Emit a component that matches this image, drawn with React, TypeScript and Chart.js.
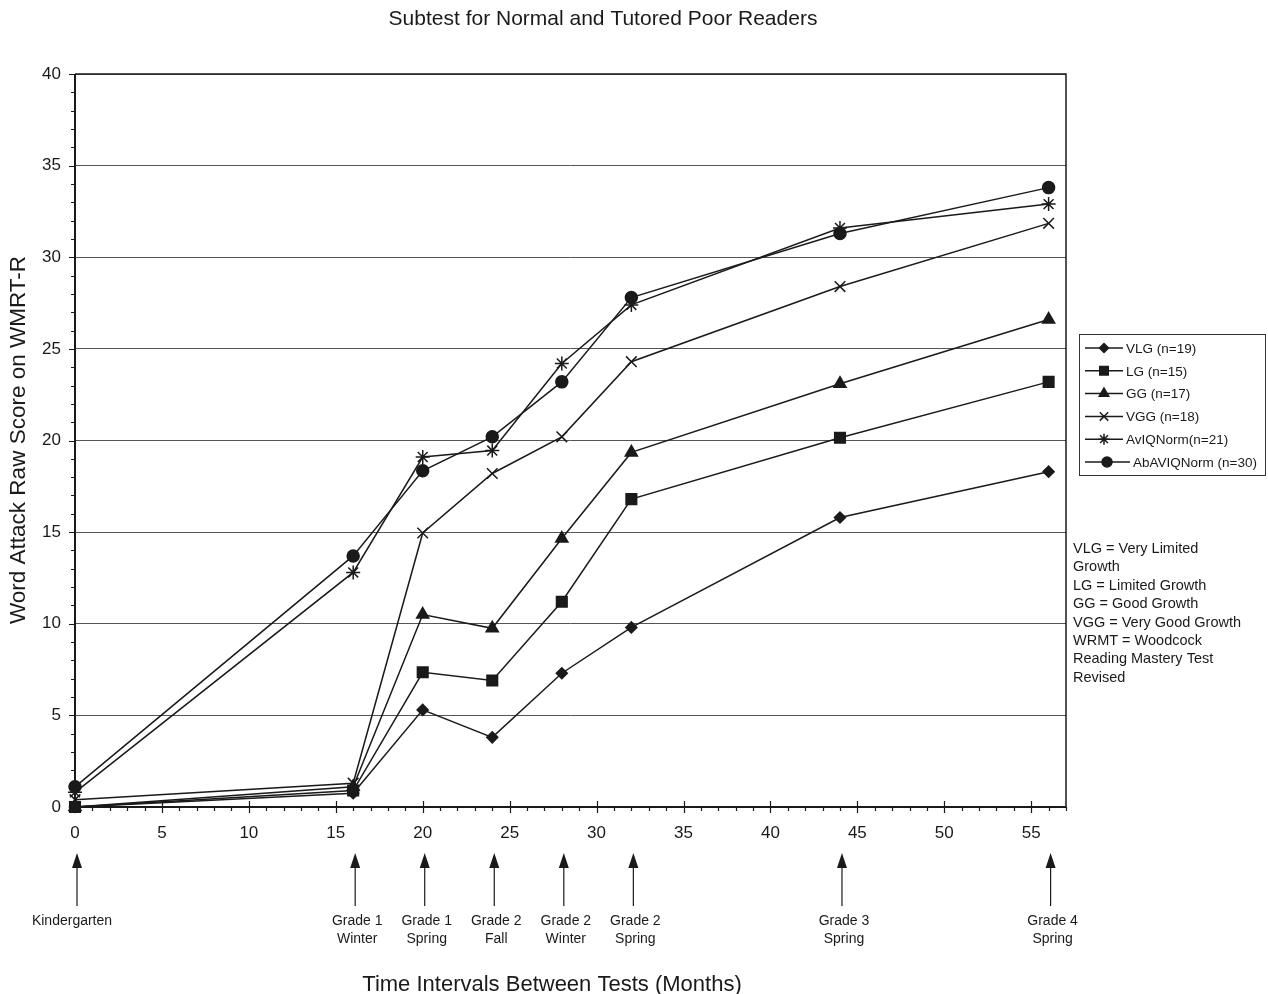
import React, { useEffect, useRef } from "react";
import { Chart, registerables } from "chart.js";
import { drawPoint } from "chart.js/helpers";

Chart.register(...registerables);

const months = [0, 16, 20, 24, 28, 32, 44, 56];
const vlg = [0, 0.75, 5.3, 3.8, 7.3, 9.8, 15.8, 18.3];
const lg = [0, 0.9, 7.35, 6.9, 11.2, 16.8, 20.15, 23.2];
const gg = [0, 1.1, 10.5, 9.75, 14.65, 19.35, 23.1, 26.6];
const vgg = [0.4, 1.3, 14.95, 18.2, 20.2, 24.3, 28.4, 31.85];
const aviq = [0.8, 12.8, 19.1, 19.45, 24.2, 27.4, 31.6, 32.9];
const abaviq = [1.1, 13.7, 18.35, 20.2, 23.2, 27.8, 31.3, 33.8];

const seriesNames = [
  "VLG (n=19)",
  "LG (n=15)",
  "GG (n=17)",
  "VGG (n=18)",
  "AvIQNorm(n=21)",
  "AbAVIQNorm (n=30)",
];
const seriesValues = [vlg, lg, gg, vgg, aviq, abaviq];
const pointStyles = ["rectRot", "rect", "triangle", "crossRot", "star", "circle"];
const pointRadii = [5.5, 7.5, 7, 7.5, 7, 6];
const legendRadii = [4.5, 6, 5.5, 6, 5.5, 5];

const testLabels = [
  ["Kindergarten"],
  ["Grade 1", "Winter"],
  ["Grade 1", "Spring"],
  ["Grade 2", "Fall"],
  ["Grade 2", "Winter"],
  ["Grade 2", "Spring"],
  ["Grade 3", "Spring"],
  ["Grade 4", "Spring"],
];

const notes = [
  "VLG = Very Limited",
  "Growth",
  "LG = Limited Growth",
  "GG = Good Growth",
  "VGG = Very Good Growth",
  "WRMT = Woodcock",
  "Reading Mastery Test",
  "Revised",
];

const titleText = "Subtest for Normal and Tutored Poor Readers";
const xTitle = "Time Intervals Between Tests (Months)";
const yTitle = "Word Attack Raw Score on WMRT-R";

const FONT = '"Liberation Sans", Arial, Helvetica, sans-serif';
const INK = "#1a1a1a";

const decorPlugin = {
  id: "decor",
  beforeDatasetsDraw(chart: any) {
    const ctx = chart.ctx;
    const { left, right, top, bottom } = chart.chartArea;
    const xs = chart.scales.x;
    const ys = chart.scales.y;
    ctx.save();
    ctx.strokeStyle = INK;
    ctx.lineWidth = 1.5;
    ctx.beginPath();
    ctx.moveTo(left, top);
    ctx.lineTo(right, top);
    ctx.lineTo(right, bottom);
    ctx.stroke();
    ctx.lineWidth = 2;
    ctx.beginPath();
    ctx.moveTo(left, top);
    ctx.lineTo(left, bottom);
    ctx.lineTo(right, bottom);
    ctx.stroke();
    ctx.lineWidth = 1.2;
    ctx.beginPath();
    for (let v = 0; v <= xs.max; v++) {
      const px = Math.round(xs.getPixelForValue(v)) + 0.5;
      if (v % 5 === 0) {
        ctx.moveTo(px, bottom - 6);
        ctx.lineTo(px, bottom + 6);
      } else {
        ctx.moveTo(px, bottom);
        ctx.lineTo(px, bottom + 4);
      }
    }
    ctx.stroke();
    ctx.beginPath();
    for (let v = 0; v <= ys.max; v++) {
      const py = Math.round(ys.getPixelForValue(v)) + 0.5;
      if (v % 5 === 0) {
        ctx.moveTo(left - 6, py);
        ctx.lineTo(left, py);
      } else {
        ctx.moveTo(left - 4, py);
        ctx.lineTo(left, py);
      }
    }
    ctx.stroke();
    ctx.restore();
  },
  afterDraw(chart: any) {
    const ctx = chart.ctx;
    const xs = chart.scales.x;
    ctx.save();
    ctx.fillStyle = INK;
    ctx.strokeStyle = INK;
    ctx.textAlign = "center";
    ctx.textBaseline = "middle";

    ctx.font = `21px ${FONT}`;
    ctx.fillText(titleText, 603, 19);

    ctx.font = `22px ${FONT}`;
    ctx.fillText(xTitle, 552, 985);

    ctx.save();
    ctx.translate(19, 440);
    ctx.rotate(-Math.PI / 2);
    ctx.font = `22.5px ${FONT}`;
    ctx.fillText(yTitle, 0, 0);
    ctx.restore();

    ctx.font = `14px ${FONT}`;
    months.forEach((m, i) => {
      const px = xs.getPixelForValue(m) + 2;
      const tip = 853;
      const base = 906;
      ctx.lineWidth = 1.2;
      ctx.beginPath();
      ctx.moveTo(px, tip + 12);
      ctx.lineTo(px, base);
      ctx.stroke();
      ctx.beginPath();
      ctx.moveTo(px, tip);
      ctx.lineTo(px - 5, tip + 15);
      ctx.lineTo(px + 5, tip + 15);
      ctx.closePath();
      ctx.fill();
      const lines = testLabels[i];
      const lx = i === 0 ? px - 5 : px + 2;
      lines.forEach((t, j) => {
        ctx.fillText(t, lx, 921 + j * 18);
      });
    });

    const lx0 = 1079;
    const ly0 = 334;
    ctx.lineWidth = 1;
    ctx.strokeStyle = "#333";
    ctx.strokeRect(lx0 + 0.5, ly0 + 0.5, 186, 141);
    ctx.textAlign = "left";
    ctx.font = `13.5px ${FONT}`;
    seriesNames.forEach((name, i) => {
      const y = 348 + i * 22.8;
      const last = i === seriesNames.length - 1;
      const lineEnd = last ? 1130 : 1123;
      ctx.strokeStyle = INK;
      ctx.lineWidth = 1.5;
      ctx.beginPath();
      ctx.moveTo(1085, y);
      ctx.lineTo(lineEnd, y);
      ctx.stroke();
      drawPoint(
        ctx,
        {
          pointStyle: pointStyles[i],
          radius: legendRadii[i],
          rotation: 0,
          borderWidth: 1.5,
        } as any,
        last ? 1107 : 1104,
        y
      );
      ctx.fillStyle = INK;
      ctx.fillText(name, lineEnd + 3, y + 1);
    });

    ctx.font = `14.5px ${FONT}`;
    notes.forEach((t, i) => {
      ctx.fillText(t, 1073, 549 + i * 18.4);
    });
    ctx.restore();
  },
};

export default function App() {
  const ref = useRef<HTMLCanvasElement | null>(null);
  useEffect(() => {
    document.body.style.margin = "0";
    const canvas = ref.current;
    if (!canvas) return;
    const datasets = seriesNames.map((name, i) => ({
      label: name,
      data: months.map((m, j) => ({ x: m, y: seriesValues[i][j] })),
      borderColor: INK,
      backgroundColor: INK,
      borderWidth: 1.5,
      pointStyle: pointStyles[i],
      pointRadius: pointRadii[i],
      pointBorderWidth: 1.5,
      pointBorderColor: INK,
      pointBackgroundColor: INK,
      tension: 0,
      fill: false,
      clip: false as any,
    }));
    const chart = new Chart(canvas, {
      type: "line",
      data: { datasets },
      options: {
        responsive: false,
        animation: false,
        devicePixelRatio: 1,
        layout: { padding: { left: 0, top: 74, right: 202, bottom: 0 } },
        plugins: {
          legend: { display: false },
          title: { display: false },
          tooltip: { enabled: false },
        },
        scales: {
          x: {
            type: "linear",
            min: 0,
            max: 57,
            afterFit: (s: any) => {
              s.height = 187;
            },
            grid: { display: false },
            border: { display: false },
            ticks: {
              stepSize: 5,
              includeBounds: false,
              padding: 8,
              color: INK,
              font: { size: 17, family: FONT },
              maxRotation: 0,
              autoSkip: false,
              callback: (v: any) => (Number(v) % 5 === 0 ? String(v) : ""),
            },
          },
          y: {
            type: "linear",
            min: 0,
            max: 40,
            afterFit: (s: any) => {
              s.width = 75;
            },
            grid: { color: "#555", lineWidth: 1, drawTicks: false },
            border: { display: false },
            ticks: {
              stepSize: 5,
              padding: 14,
              color: INK,
              font: { size: 17, family: FONT },
            },
          },
        },
      },
      plugins: [decorPlugin],
    });
    return () => chart.destroy();
  }, []);
  return (
    <canvas
      ref={ref}
      width={1268}
      height={994}
      style={{ display: "block", width: 1268, height: 994 }}
    />
  );
}
